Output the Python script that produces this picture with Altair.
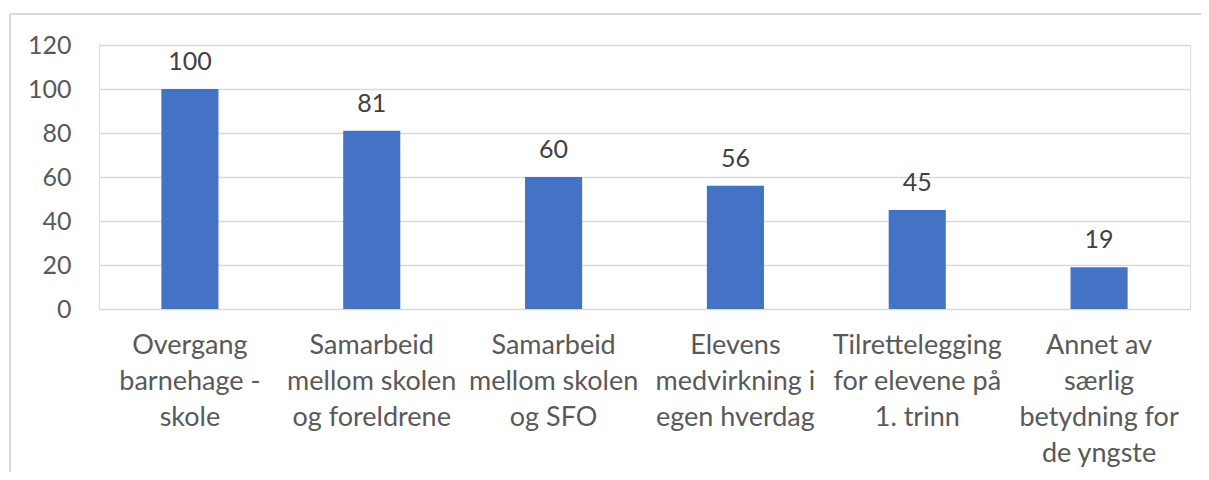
import altair as alt
import pandas as pd

categories = [
    "Overgang\nbarnehage -\nskole",
    "Samarbeid\nmellom skolen\nog foreldrene",
    "Samarbeid\nmellom skolen\nog SFO",
    "Elevens\nmedvirkning i\negen hverdag",
    "Tilrettelegging\nfor elevene på\n1. trinn",
    "Annet av\nsærlig\nbetydning for\nde yngste",
]
values = [100, 81, 60, 56, 45, 19]
y_ticks = [0, 20, 40, 60, 80, 100, 120]

df = pd.DataFrame({"kategori": categories, "verdi": values})

FONT = "Lato"
W, H = 1091, 264

x = alt.X(
    "kategori:N",
    sort=categories,
    title=None,
    scale=alt.Scale(paddingInner=0.686, paddingOuter=0.343),
    axis=alt.Axis(
        labelAngle=0,
        labelExpr="split(datum.label, '\\n')",
        labelFont=FONT,
        labelFontSize=27,
        labelColor="#595959",
        labelLineHeight=36,
        labelPadding=23,
        labelLimit=300,
        ticks=False,
        domain=False,
        grid=False,
        labelBaseline="top",
    ),
)
y = alt.Y(
    "verdi:Q",
    title=None,
    scale=alt.Scale(domain=[0, 120], nice=False),
    axis=alt.Axis(
        values=y_ticks,
        labelFont=FONT,
        labelFontSize=25,
        labelColor="#595959",
        labelPadding=28,
        ticks=False,
        domain=False,
        gridColor="#D9D9D9",
        gridWidth=1.3,
    ),
)

frame_top = alt.Chart(df).mark_rule(stroke="#D9D9D9", strokeWidth=1.5).encode(
    x=alt.value(-89), x2=alt.value(1300), y=alt.value(-31)
)
frame_left = alt.Chart(df).mark_rule(stroke="#D9D9D9", strokeWidth=1.5).encode(
    x=alt.value(-89), y=alt.value(-31), y2=alt.value(500)
)

bars = alt.Chart(df).mark_bar(color="#4472C4").encode(x=x, y=y)

text = alt.Chart(df).mark_text(
    font=FONT, fontSize=25, color="#404040", baseline="alphabetic", dy=-19
).encode(x=alt.X("kategori:N", sort=categories), y="verdi:Q", text="verdi:Q")

chart = (
    alt.layer(frame_top, frame_left, bars, text)
    .properties(
        width=W,
        height=H,
        autosize=alt.AutoSizeParams(type="none"),
        padding={"left": 91, "top": 37, "right": 11, "bottom": 163},
    )
    .configure_view(stroke=None)
    .configure(background="white")
)

chart.save("out.html", embed_options={"renderer": "svg", "actions": False})
